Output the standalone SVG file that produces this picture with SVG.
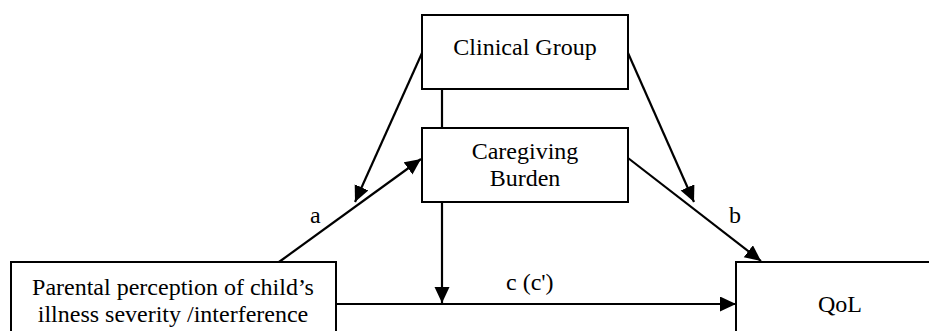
<svg xmlns="http://www.w3.org/2000/svg" width="929" height="331" viewBox="0 0 929 331">
<style>
.box{fill:#fff;stroke:#000;stroke-width:2}
.ln{fill:none;stroke:#000;stroke-width:2.2}
.arr{marker-end:url(#ah)}
.c{text-anchor:middle}
</style>
<defs>
<marker id="ah" markerUnits="userSpaceOnUse" markerWidth="17" markerHeight="16" refX="16" refY="7.5" orient="auto">
<path d="M0,0 L16,7.5 L0,15 z" fill="#000"/>
</marker>
</defs>
<rect width="929" height="331" fill="#fff"/>
<g font-family="'Liberation Serif', 'Times New Roman', 'DejaVu Serif', serif" font-size="24" fill="#000">
<g id="connectors">
<line class="ln" x1="442" y1="89" x2="442" y2="128"/>
<line class="ln arr" x1="442" y1="202" x2="442" y2="303"/>
<line class="ln arr" x1="336" y1="304" x2="736" y2="304"/>
<line class="ln arr" x1="279" y1="262" x2="421" y2="159"/>
<line class="ln arr" x1="422" y1="53" x2="355" y2="202"/>
<line class="ln arr" x1="628" y1="53" x2="694" y2="202"/>
<line class="ln arr" x1="628" y1="158" x2="761" y2="261"/>
<text x="310" y="223">a</text>
<text x="729" y="223">b</text>
<text x="506" y="290">c (c')</text>
</g>
<g id="clinical-group">
<rect class="box" x="422" y="15" width="206" height="74"/>
<text class="c" x="525" y="55">Clinical Group</text>
</g>
<g id="caregiving-burden">
<rect class="box" x="422" y="128" width="206" height="74"/>
<text class="c" x="525" y="159">Caregiving</text>
<text class="c" x="525" y="186">Burden</text>
</g>
<g id="parental-perception">
<rect class="box" x="11" y="262" width="325" height="80"/>
<text class="c" x="173" y="295">Parental perception of child’s</text>
<text class="c" x="173" y="322">illness severity /interference</text>
</g>
<g id="qol">
<rect class="box" x="736" y="262" width="208" height="80"/>
<text class="c" x="840" y="312">QoL</text>
</g>
</g>
</svg>
